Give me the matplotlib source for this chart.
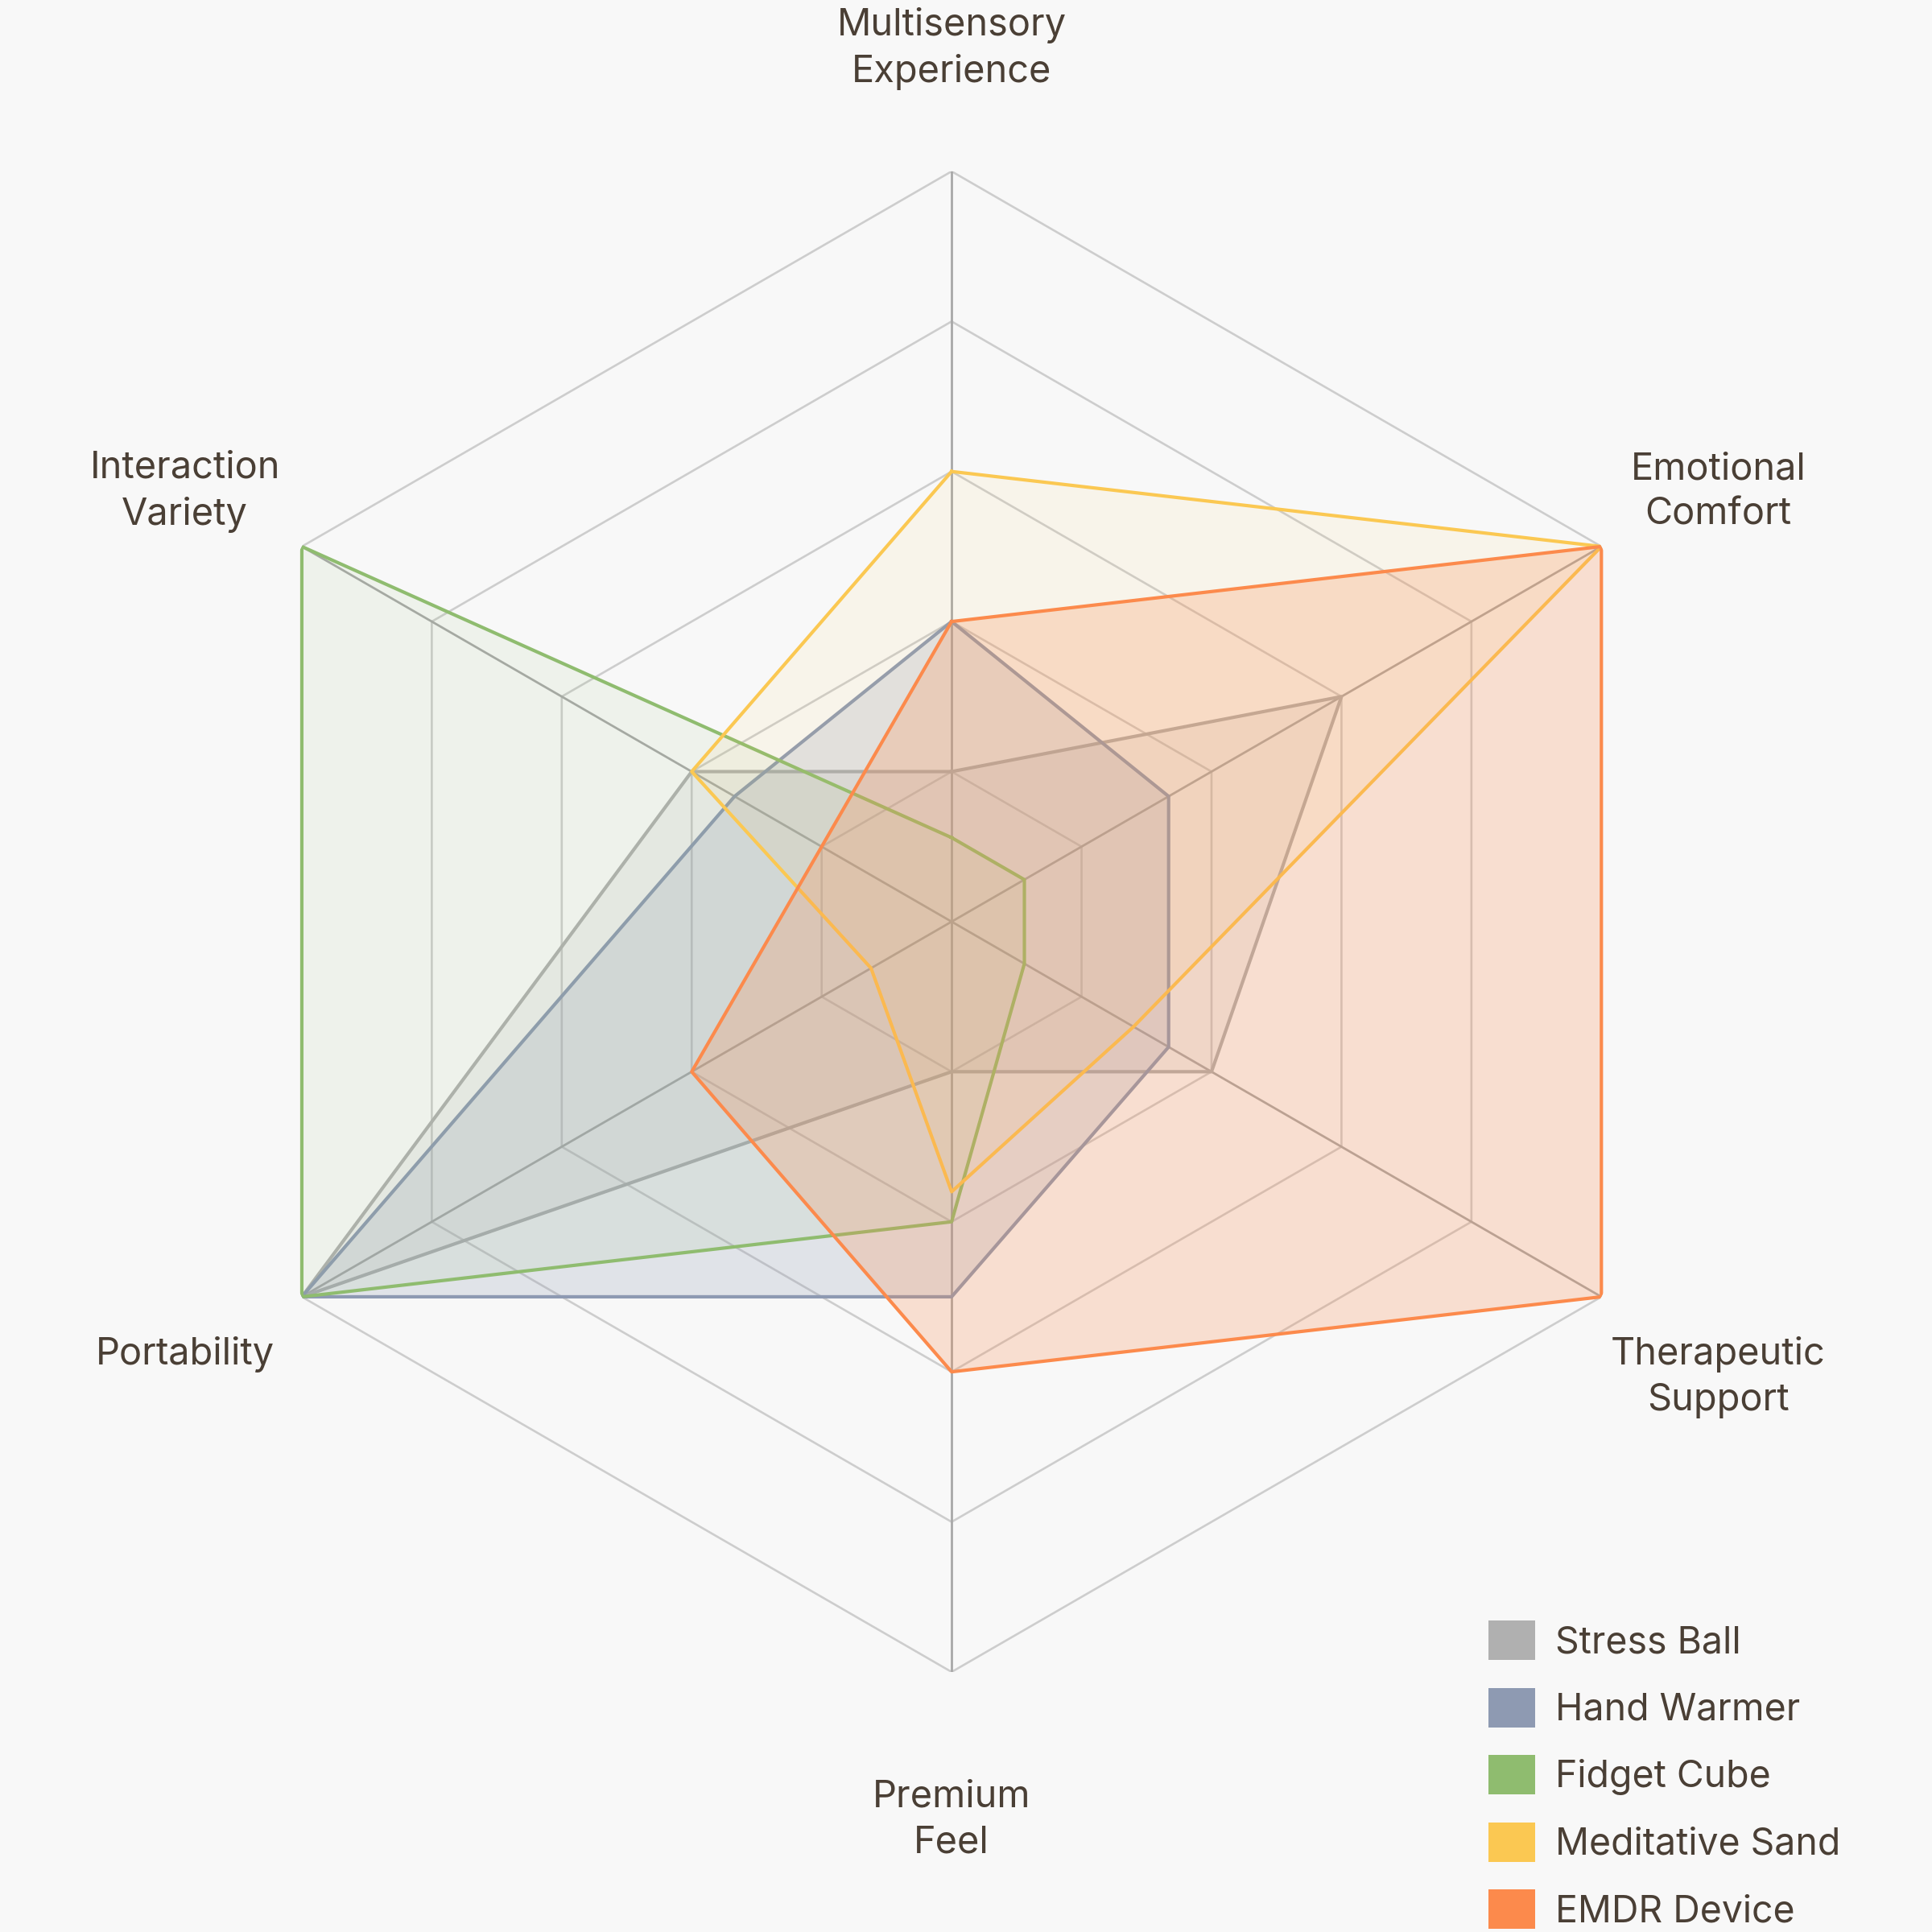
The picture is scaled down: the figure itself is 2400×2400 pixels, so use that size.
import matplotlib
matplotlib.use("Agg")
import matplotlib.pyplot as plt
import numpy as np
from matplotlib.patches import Patch
from matplotlib.transforms import offset_copy

plt.rcParams['font.family'] = ['Inter', 'DejaVu Sans']

# ---- data ----
categories = ["Multisensory\nExperience", "Emotional\nComfort", "Therapeutic\nSupport",
              "Premium\nFeel", "Portability", "Interaction\nVariety"]
series_names = ["Stress Ball", "Hand Warmer", "Fidget Cube", "Meditative Sand", "EMDR Device"]
stress_ball = [1.0, 3.0, 2.0, 1.0, 5.0, 2.0]
hand_warmer = [2.0, 1.67, 1.67, 2.5, 5.0, 1.67]
fidget_cube = [0.56, 0.56, 0.56, 2.0, 5.0, 5.0]
meditative_sand = [3.0, 5.0, 1.4, 1.8, 0.62, 2.0]
emdr_device = [2.0, 5.0, 5.0, 3.0, 2.0, 1.0]
grid_levels = [1, 2, 3, 4, 5]

series_values = [stress_ball, hand_warmer, fidget_cube, meditative_sand, emdr_device]
colors = ["#b0b0b0", "#8e9ab2", "#8fbc6f", "#fbc852", "#fc8a4c"]
fill_alpha = [0.15, 0.22, 0.09, 0.08, 0.23]
text_color = "#4a3f35"
bg = "#f8f8f8"
label_fs = 16.9
label_ls = 1.38

fig = plt.figure(figsize=(12, 12), dpi=200, facecolor=bg)
ax = fig.add_axes([0.1042, 0.1346, 0.7767, 0.7767], projection='polar')
ax.set_facecolor('none')
ax.set_theta_offset(np.pi / 2)
ax.set_theta_direction(-1)

n = len(categories)
angles = np.arange(n) * 2 * np.pi / n
angles_closed = np.concatenate([angles, angles[:1]])

ax.set_ylim(0, max(grid_levels))
ax.set_xticks(angles)
ax.set_xticklabels([])
ax.set_yticks([])
ax.spines['polar'].set_visible(False)
ax.xaxis.grid(True, color="#a8a8a8", linewidth=1.0)

for lvl in grid_levels:
    ax.plot(angles_closed, [lvl] * (n + 1), color="#cdcdcd", linewidth=0.95, zorder=1.4)

for vals, c, a in zip(series_values, colors, fill_alpha):
    v = list(vals) + [vals[0]]
    ax.fill(angles_closed, v, color=c, alpha=a, linewidth=0, zorder=2)
    ax.plot(angles_closed, v, color=c, linewidth=1.5, zorder=2)

# measure line step so the first line's baseline sits at the anchor
renderer = fig.canvas.get_renderer()
t1 = fig.text(0, 0, "Ag", fontsize=label_fs, linespacing=label_ls)
t2 = fig.text(0, 0, "Ag\nAg", fontsize=label_fs, linespacing=label_ls)
step_px = t2.get_window_extent(renderer).height - t1.get_window_extent(renderer).height
t1.remove()
t2.remove()

rmax = max(grid_levels)
for ang, lab in zip(angles, categories):
    nl = lab.count("\n")
    tr = offset_copy(ax.transData, fig=fig, x=0, y=-nl * step_px * 72.0 / fig.dpi, units='points')
    ax.text(ang, rmax * 1.18, lab, ha='center', va='baseline', fontsize=label_fs,
            color=text_color, linespacing=label_ls, transform=tr, clip_on=False)

handles = [Patch(facecolor=c, edgecolor='none') for c in colors]
fig.legend(handles, series_names, loc='upper left',
           bbox_to_anchor=(1849 / 2400, 1 - 2013 / 2400), frameon=False,
           fontsize=16.7, handlelength=1.25, handleheight=1.25,
           handletextpad=0.55, labelspacing=0.72, borderpad=0,
           borderaxespad=0, labelcolor=text_color)

fig.savefig("out.png", dpi=200, facecolor=bg)
